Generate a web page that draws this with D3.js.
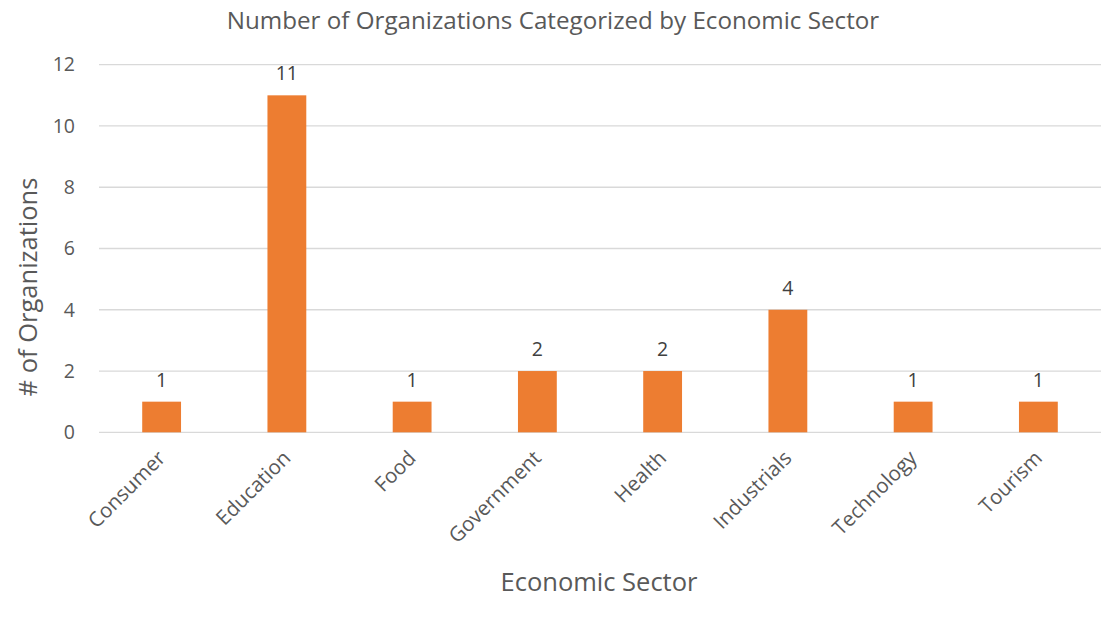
<!DOCTYPE html>
<html>
<head>
<meta charset="utf-8">
<script src="https://cdn.jsdelivr.net/npm/d3@7"></script>
<style>
  body { margin: 0; background: #fff; }
  text { font-family: "Open Sans", "Lato", sans-serif; fill: #595959; }
</style>
</head>
<body>
<div class="container"></div>
<script>
const WIDTH = 1120;
const HEIGHT = 622;
const MARGIN = { top: 64.7, right: 19, bottom: 189.7, left: 99 };

var sectors = ["Consumer", "Education", "Food", "Government", "Health", "Industrials", "Technology", "Tourism"];
var counts = [1, 11, 1, 2, 2, 4, 1, 1];
var yTicks = [0, 2, 4, 6, 8, 10, 12];

var translate = function (x, y) {
    return "translate(" + x + "," + y + ")";
};

var _xScale = d3.scaleBand()
    .domain(sectors)
    .range([MARGIN.left, WIDTH - MARGIN.right])
    .paddingInner(0.69)
    .paddingOuter(0.345);

var _yScale = d3.scaleLinear()
    .domain([0, 12])
    .range([HEIGHT - MARGIN.bottom, MARGIN.top]);

var svg = d3.select('.container').append('svg')
    .attr('width', WIDTH)
    .attr('height', HEIGHT);

// gridlines
svg.append('g')
    .selectAll('line')
    .data(yTicks)
    .enter().append('line')
    .attr('x1', MARGIN.left)
    .attr('x2', WIDTH - MARGIN.right)
    .attr('y1', function (d) { return _yScale(d); })
    .attr('y2', function (d) { return _yScale(d); })
    .attr('stroke', '#d9d9d9')
    .attr('stroke-width', 1.3);

// y axis labels
var yAxis = d3.axisLeft(_yScale).tickValues(yTicks).tickSize(0).tickPadding(24);
svg.append('g')
    .attr('transform', translate(MARGIN.left, 0))
    .call(yAxis)
    .call(function (g) { g.select('.domain').remove(); })
    .selectAll('text')
    .style('font-size', '19.5px')
    .attr('fill', '#595959');

// bars
svg.append('g')
    .selectAll('rect')
    .data(counts)
    .enter().append('rect')
    .attr('x', function (d, i) { return _xScale(sectors[i]); })
    .attr('y', function (d) { return _yScale(d); })
    .attr('width', _xScale.bandwidth())
    .attr('height', function (d) { return _yScale(0) - _yScale(d); })
    .attr('fill', '#ed7d31');

// data labels
svg.append('g')
    .selectAll('text')
    .data(counts)
    .enter().append('text')
    .attr('x', function (d, i) { return _xScale(sectors[i]) + _xScale.bandwidth() / 2; })
    .attr('y', function (d) { return _yScale(d) - 15; })
    .attr('text-anchor', 'middle')
    .style('font-size', '19.5px')
    .style('fill', '#404040')
    .text(function (d) { return d; });

// x axis labels
var xAxis = d3.axisBottom(_xScale).tickSize(0).tickPadding(0);
svg.append('g')
    .attr('transform', translate(0, _yScale(0)))
    .call(xAxis)
    .call(function (g) { g.select('.domain').remove(); })
    .selectAll('text')
    .attr('text-anchor', 'end')
    .attr('dy', null)
    .attr('transform', 'translate(5,27) rotate(-45)')
    .style('font-size', '20.5px')
    .attr('fill', '#595959');

// title
svg.append('text')
    .attr('x', 553)
    .attr('y', 29)
    .attr('text-anchor', 'middle')
    .style('font-size', '24.2px')
    .text('Number of Organizations Categorized by Economic Sector');

// axis titles
svg.append('text')
    .attr('x', 599)
    .attr('y', 591)
    .attr('text-anchor', 'middle')
    .style('font-size', '25.5px')
    .text('Economic Sector');

svg.append('text')
    .attr('transform', translate(37, 287) + ' rotate(-90)')
    .attr('text-anchor', 'middle')
    .style('font-size', '25.5px')
    .text('#  of Organizations');
</script>
</body>
</html>
